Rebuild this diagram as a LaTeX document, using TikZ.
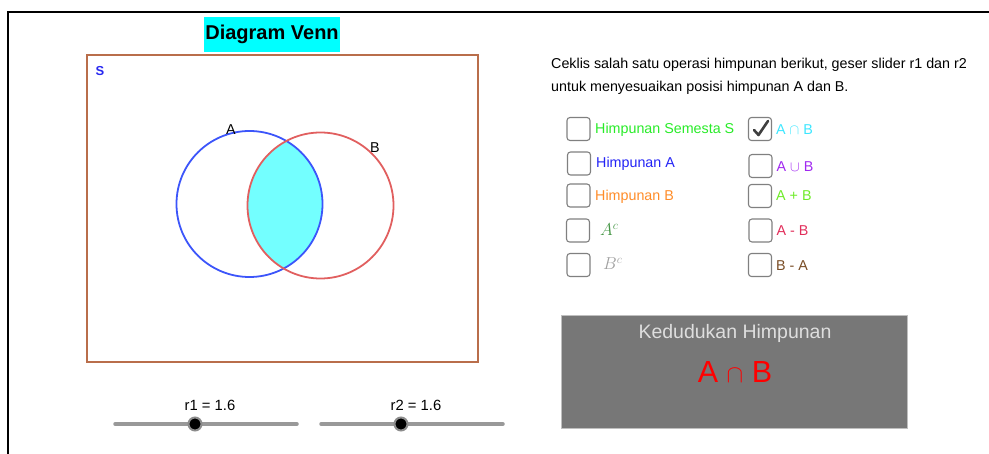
\documentclass[tikz,border=0pt]{standalone}
\usepackage{fontspec}
\setmainfont{Liberation Sans}
\usepackage{amsmath}
\usetikzlibrary{calc}
\definecolor{titlecyan}{RGB}{0,255,255}
\definecolor{frameS}{RGB}{185,110,75}
\definecolor{blueA}{RGB}{60,85,250}
\definecolor{redB}{RGB}{225,95,95}
\definecolor{interfill}{RGB}{115,255,255}
\definecolor{labS}{RGB}{40,40,240}
\definecolor{cSem}{RGB}{40,235,40}
\definecolor{cHA}{RGB}{35,35,245}
\definecolor{cHB}{RGB}{255,140,40}
\definecolor{cAc}{RGB}{70,150,70}
\definecolor{cBc}{RGB}{160,160,160}
\definecolor{cAnB}{RGB}{60,230,255}
\definecolor{cAuB}{RGB}{160,40,240}
\definecolor{cApB}{RGB}{110,235,40}
\definecolor{cAmB}{RGB}{225,45,90}
\definecolor{cBmA}{RGB}{120,75,35}
\definecolor{panel}{RGB}{119,119,119}
\begin{document}
\begin{tikzpicture}[x=1pt,y=-1pt,
  txt/.style={inner sep=0pt, font=\fontsize{14.3}{16}\selectfont},
  lbl/.style={txt, anchor=west},
  cbox/.style={draw=black!50, line width=1.1pt, rounded corners=3pt, minimum width=23pt, minimum height=23pt, inner sep=0pt},
  track/.style={line width=3.5pt, draw=black!40, line cap=round},
  knob/.style={circle, fill=black, draw=black!45, line width=2pt, minimum size=13pt, inner sep=0pt}
]
\useasboundingbox (0,0) rectangle (989,454);
% outer frame
\draw[line width=1.6pt] (989,12) -- (8,12) -- (8,454);
% title
\node[fill=titlecyan, minimum width=136pt, minimum height=35pt, inner sep=0pt, font=\fontsize{20}{22}\selectfont\bfseries] (title) at (272,34.5) {Diagram Venn};
% universe
\draw[frameS, line width=1.8pt] (87,55) rectangle (478,362);
\node[txt, text=labS, font=\fontsize{13}{15}\selectfont\bfseries] (S) at (100,71) {S};
% venn
\begin{scope}
  \clip (249.5,204) circle (73);
  \fill[interfill] (320.5,205.5) circle (73);
\end{scope}
\draw[blueA, line width=1.8pt] (249.5,204) circle (73);
\draw[redB, line width=1.8pt] (320.5,205.5) circle (73);
\node[txt] (labA) at (231,130) {A};
\node[txt] (labB) at (375,148) {B};
% sliders
\coordinate (s1a) at (115,424); \coordinate (s1b) at (297,424);
\draw[track] (s1a) -- (s1b);
\node[knob] (k1) at (195,424) {};
\node[txt, font=\fontsize{14.8}{16}\selectfont] (r1) at (210,405) {r1 = 1.6};
\coordinate (s2a) at (321,424); \coordinate (s2b) at (503,424);
\draw[track] (s2a) -- (s2b);
\node[knob] (k2) at (401,424) {};
\node[txt, font=\fontsize{14.8}{16}\selectfont] (r2) at (416,405) {r2 = 1.6};
% instructions
\node[lbl] (ins1) at (551,65) {Ceklis salah satu operasi himpunan berikut, geser slider r1 dan r2};
\node[lbl] (ins2) at (551,88) {untuk menyesuaikan posisi himpunan A dan B.};
% left checkboxes
\node[cbox] (b1) at (578.5,129) {};
\node[lbl, text=cSem] (t1) at (595,129.5) {Himpunan Semesta S};
\node[cbox] (b2) at (579,163.5) {};
\node[lbl, text=cHA] (t2) at (596,164) {Himpunan A};
\node[cbox] (b3) at (578.5,195.5) {};
\node[lbl, text=cHB] (t3) at (595,196.5) {Himpunan B};
\node[cbox] (b4) at (578,230.5) {};
\node[lbl, text=cAc, font=\fontsize{17}{19}\selectfont] (t4) at (600,229.5) {$A^c$};
\node[cbox] (b5) at (578.5,265) {};
\node[lbl, text=cBc, font=\fontsize{17}{19}\selectfont] (t5) at (603,263.5) {$B^c$};
% right checkboxes
\node[cbox] (c1) at (760,129) {};
\draw[black!75, line width=2.6pt, line cap=round, line join=round] ($(c1.center)+(-6,1)$) -- ($(c1.center)+(-1.5,6)$) -- ($(c1.center)+(8,-8)$);
\node[lbl, text=cAnB] (u1) at (776,129.5) {A $\cap$ B};
\node[cbox] (c2) at (760.5,166) {};
\node[lbl, text=cAuB] (u2) at (776.5,167) {A $\cup$ B};
\node[cbox] (c3) at (760,196) {};
\node[lbl, text=cApB] (u3) at (776,196) {A + B};
\node[cbox] (c4) at (760.5,230.5) {};
\node[lbl, text=cAmB] (u4) at (776.5,230.5) {A - B};
\node[cbox] (c5) at (760,265) {};
\node[lbl, text=cBmA] (u5) at (776,266) {B - A};
% result panel
\node[fill=panel, draw=black!25, line width=0.8pt, minimum width=346pt, minimum height=113pt, inner sep=0pt] (panel) at (734.5,371.5) {};
\node[txt, text=black!13, font=\fontsize{19.5}{21}\selectfont] (kh) at (735,333) {Kedudukan Himpunan};
\node[txt, text=red, font=\fontsize{30.5}{32}\selectfont] (res) at (735,372) {A $\cap$ B};
\end{tikzpicture}
\end{document}
